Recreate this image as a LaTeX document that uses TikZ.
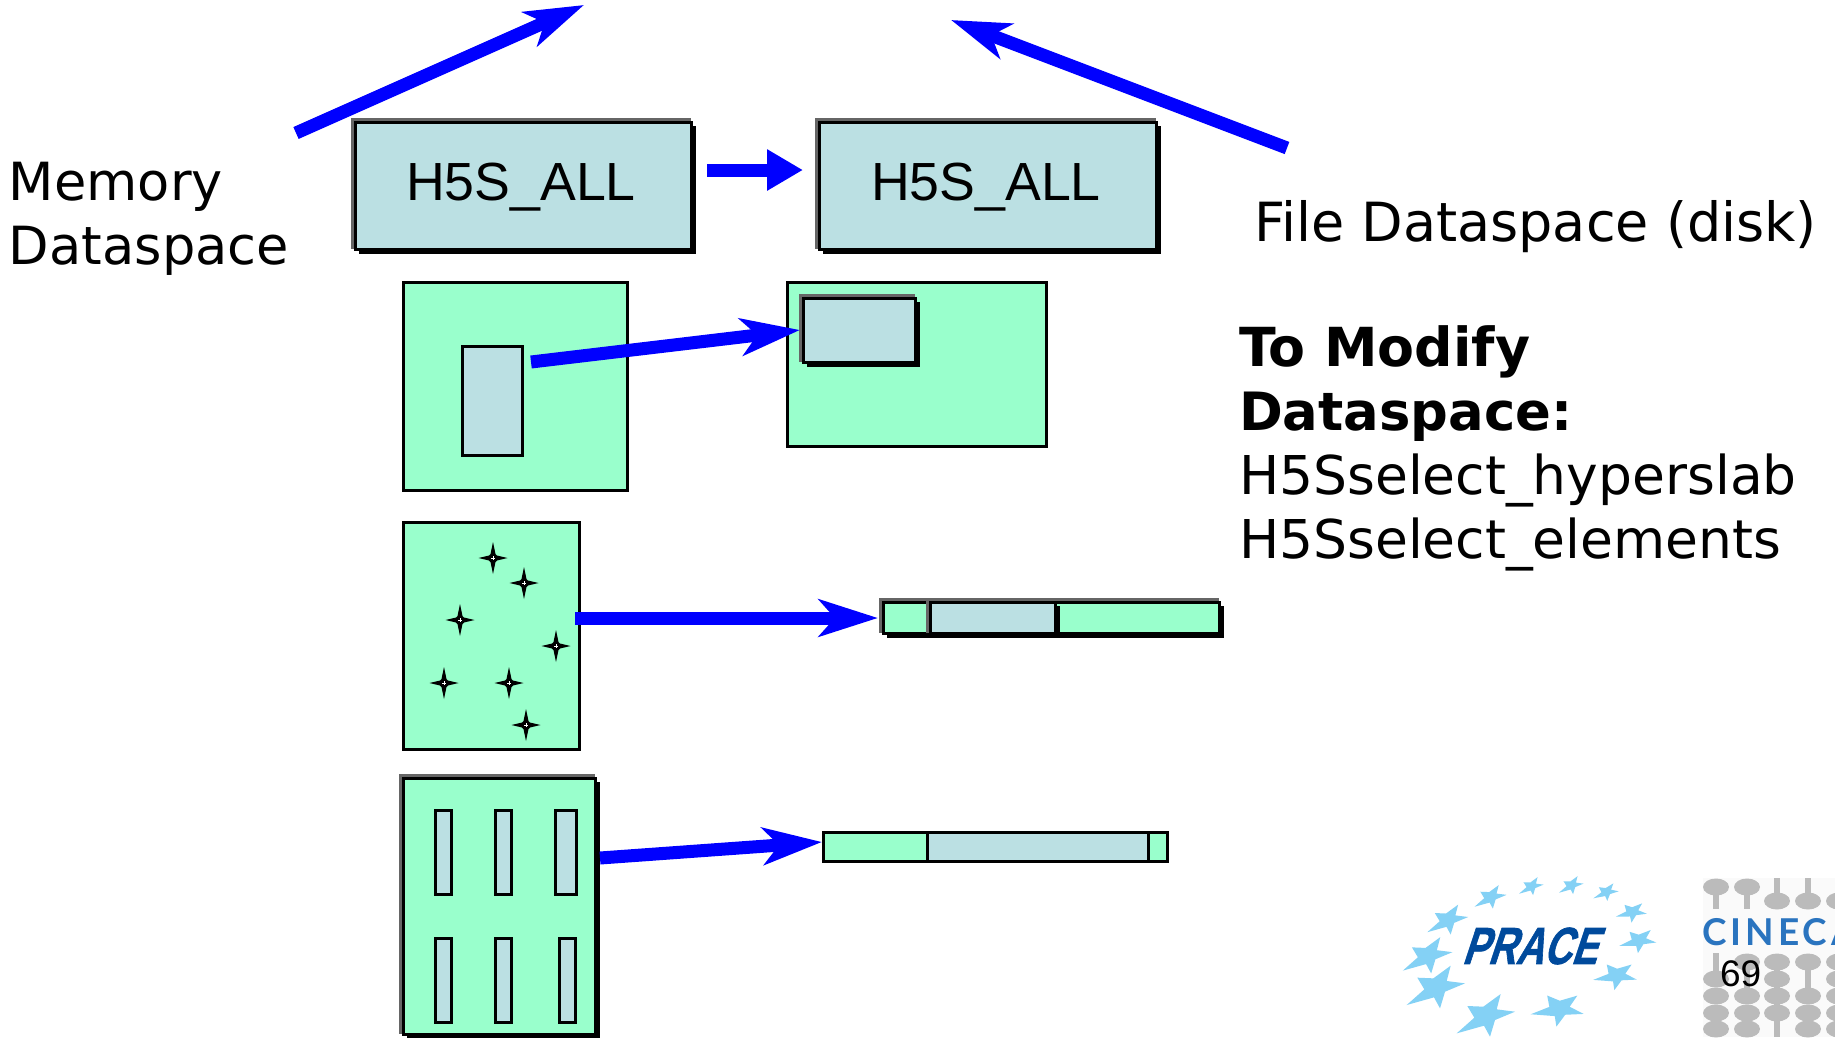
\documentclass[tikz,border=0pt]{standalone}
\usepackage{fontspec}
\setmainfont{DejaVu Sans}
\newfontfamily\arialfont{Liberation Sans}
\newfontfamily\pracefont[BoldFeatures={FakeBold=1.5}]{Liberation Sans}
\newfontfamily\latofont[LetterSpace=11]{Lato}
\usetikzlibrary{arrows.meta,fit}
\definecolor{dsgreen}{HTML}{99FFCC}
\definecolor{dsblue}{HTML}{BBE0E3}
\definecolor{dsarrow}{HTML}{0000FF}
\definecolor{dsgray}{HTML}{666666}
\definecolor{starc}{HTML}{84D1F5}
\definecolor{pracec}{HTML}{004A9C}
\definecolor{cinecac}{HTML}{2A74BF}
\definecolor{beadc}{HTML}{BBBBBB}
\tikzset{
  face/.style={draw=black,line width=3pt,inner sep=0pt,outer sep=0pt},
  bluearrow/.style={draw=dsarrow,line width=13pt,-{Stealth[length=59pt,width=37pt,inset=16pt,fill=dsarrow]}},
  blockarrow/.style={draw=dsarrow,line width=13pt,-{Triangle[length=36pt,width=39pt,fill=dsarrow]}},
  bigtext/.style={inner sep=0pt,outer sep=0pt,anchor=base west,font=\fontsize{52.6}{64}\selectfont},
  boxtext/.style={inner sep=0pt,outer sep=0pt,anchor=base west,font=\arialfont\fontsize{53.7}{64}\selectfont},
  bead/.style={fill=beadc,draw=none},
}
% gray edge top/left, black edge bottom/right, then the face
\newcommand\panel[6]{%
  \fill[dsgray] ({#2-4},{#3-4}) rectangle (#4,#5);
  \fill[black] ({#2+4},{#3+4}) rectangle ({#4+5},{#5+5});
  \node[face,fill=#6,fit={(#2,#3)(#4,#5)}] (#1) {};
}
\newcommand\plainbox[6]{\node[face,fill=#6,fit={(#2,#3)(#4,#5)}] (#1) {};}
\newcommand\sparkle[3]{%
  \node[inner sep=0pt,minimum size=0pt] (#1) at (#2,#3) {};
  \fill[black,shift={(#2,#3)}] (0,-16) -- (2.5,-4) -- (4,-2.5) -- (14.5,0) -- (4,2.5) -- (2.5,4) -- (0,16) -- (-2.5,4) -- (-4,2.5) -- (-14.5,0) -- (-4,-2.5) -- (-2.5,-4) -- cycle;
  \draw[white,line width=.4pt,shift={(#2,#3)}] (-2,0) -- (2,0) (0,-2) -- (0,2);
}
\newcommand\pstar[4]{%
  \fill[starc,shift={({1380+#1/3},{850+#2/3})},rotate=#4,scale=#3/3]
   (42,-63) -- (30,-17) -- (85,-10) -- (25,15) -- (10,65) -- (-8,32) -- (-90,55) -- (-37,8) -- (-58,-27) -- (-10,-25) -- cycle;
}
\newcommand\stemup[3]{\fill[beadc] ({#1-3},#2) rectangle ({#1+3},#3);}
\begin{document}
\begin{tikzpicture}[x=1pt,y=-1pt]
\useasboundingbox (0,0) rectangle (1835,1037);
\fill[white] (0,0) rectangle (1835,1037);
\clip (0,0) rectangle (1835,1037);

% top row
\panel{memall}{355}{122}{691}{249}{dsblue}
\panel{fileall}{819}{122}{1156}{249}{dsblue}
\node[boxtext] (memalltext) at (406,200) {H5S\_ALL};
\node[boxtext] (filealltext) at (871,200) {H5S\_ALL};

% hyperslab row
\plainbox{memslab}{403}{282}{627}{490}{dsgreen}
\plainbox{memslabin}{462}{346}{522}{455}{dsblue}
\plainbox{fileslab}{787}{282}{1046}{446}{dsgreen}
\panel{fileslabin}{803}{298}{915}{362}{dsblue}

% points row
\plainbox{mempts}{403}{522}{579}{749}{dsgreen}
\sparkle{s1}{493}{558}
\sparkle{s2}{524}{583}
\sparkle{s3}{460}{620}
\sparkle{s4}{556}{646}
\sparkle{s5}{444}{683}
\sparkle{s6}{509}{683}
\sparkle{s7}{526}{725}
\panel{ptsc}{1055}{602}{1219}{633}{dsgreen}
\panel{ptsa}{883}{602}{930}{633}{dsgreen}
\panel{ptsb}{930}{602}{1055}{633}{dsblue}

% strided row
\panel{memstr}{403}{778}{595}{1034}{dsgreen}
\plainbox{r1}{435}{810}{451}{894}{dsblue}
\plainbox{r2}{495}{810}{511}{894}{dsblue}
\plainbox{r3}{555}{810}{576}{894}{dsblue}
\plainbox{r4}{435}{938}{451}{1022}{dsblue}
\plainbox{r5}{495}{938}{511}{1022}{dsblue}
\plainbox{r6}{559}{938}{575}{1022}{dsblue}
\plainbox{stra}{823}{832}{927}{861}{dsgreen}
\plainbox{strc}{1148}{832}{1167}{861}{dsgreen}
\plainbox{strb}{927}{832}{1148}{861}{dsblue}

% free ends of the arrows
\coordinate (a1s) at (296,133);
\coordinate (a1e) at (584,5);
\coordinate (a2s) at (707,170);
\coordinate (a2e) at (803,170);
\coordinate (a3s) at (1287,148);
\coordinate (a3e) at (951,20);
\coordinate (a4s) at (531,362);
\coordinate (a4e) at (800,330);
\coordinate (a5s) at (575,618);
\coordinate (a5e) at (878,618);
\coordinate (a6s) at (600,858);
\coordinate (a6e) at (822,842);
\draw[bluearrow] (a1s) -- (a1e);
\draw[blockarrow] (a2s) -- (a2e);
\draw[bluearrow] (a3s) -- (a3e);
\draw[bluearrow] (a4s) -- (a4e);
\draw[bluearrow] (a5s) -- (a5e);
\draw[bluearrow] (a6s) -- (a6e);

% labels
\node[bigtext] (memlabel1) at (9,200) {Memory};
\node[bigtext] (memlabel2) at (9,264) {Dataspace};
\node[bigtext,font=\fontsize{54}{64}\selectfont] (filelabel) at (1254,241) {File Dataspace (disk)};
\node[bigtext,font=\bfseries\fontsize{53.8}{64}\selectfont] (mod1) at (1239,366) {To Modify};
\node[bigtext,font=\bfseries\fontsize{52.8}{64}\selectfont] (mod2) at (1239,430) {Dataspace:};
\node[bigtext,font=\fontsize{53.5}{64}\selectfont] (mod3) at (1239,494) {H5Sselect\_hyperslab};
\node[bigtext,font=\fontsize{53.5}{64}\selectfont] (mod4) at (1239,558) {H5Sselect\_elements};

% PRACE logo
\pstar{455}{108}{.42}{0}
\pstar{575}{105}{.42}{0}
\pstar{680}{125}{.42}{-5}
\pstar{758}{185}{.5}{-15}
\pstar{778}{270}{.6}{-15}
\pstar{712}{375}{.7}{-20}
\pstar{540}{475}{.85}{-20}
\pstar{320}{495}{1}{0}
\pstar{170}{410}{1}{0}
\pstar{145}{315}{.85}{0}
\pstar{205}{208}{.7}{0}
\pstar{333}{140}{.55}{0}
\node[inner sep=0pt,transform shape,xslant=.33,xscale=.74,text=pracec,font=\pracefont\bfseries\fontsize{52}{52}\selectfont] (prace) at (1535,946) {PRACE};

% CINECA logo
\fill[black!2] (1703,878) rectangle (1835,1037);
\foreach \cx in {1716,1747} {
  \stemup{\cx}{887}{909}
  \fill[bead] (\cx,887) ellipse [x radius=13,y radius=8.5];
}
\foreach \cx in {1777,1808,1839} {
  \stemup{\cx}{878}{901}
  \fill[bead] (\cx,901) ellipse [x radius=13,y radius=8.5];
}
\stemup{1716}{953}{979}
\foreach \by in {979,996,1013,1029} \fill[bead] (1716,\by) ellipse [x radius=13,y radius=8.5];
\stemup{1747}{962}{996}
\foreach \by in {962,996,1013,1029} \fill[bead] (1747,\by) ellipse [x radius=13,y radius=8.5];
\stemup{1777}{962}{1037}
\foreach \by in {962,979,996,1013} \fill[bead] (1777,\by) ellipse [x radius=13,y radius=8.5];
\stemup{1808}{962}{996}
\foreach \by in {962,996,1013,1029} \fill[bead] (1808,\by) ellipse [x radius=13,y radius=8.5];
\foreach \by in {962,979,996,1013,1029} \fill[bead] (1839,\by) ellipse [x radius=13,y radius=8.5];
\node[inner sep=0pt,outer sep=0pt,anchor=base west,text=cinecac,font=\latofont\bfseries\fontsize{37}{37}\selectfont] (cineca) at (1702,945) {CINECA};

% page number
\node[inner sep=0pt,outer sep=0pt,anchor=base west,font=\arialfont\fontsize{37}{37}\selectfont] (pageno) at (1720,986) {69};
\end{tikzpicture}
\end{document}
